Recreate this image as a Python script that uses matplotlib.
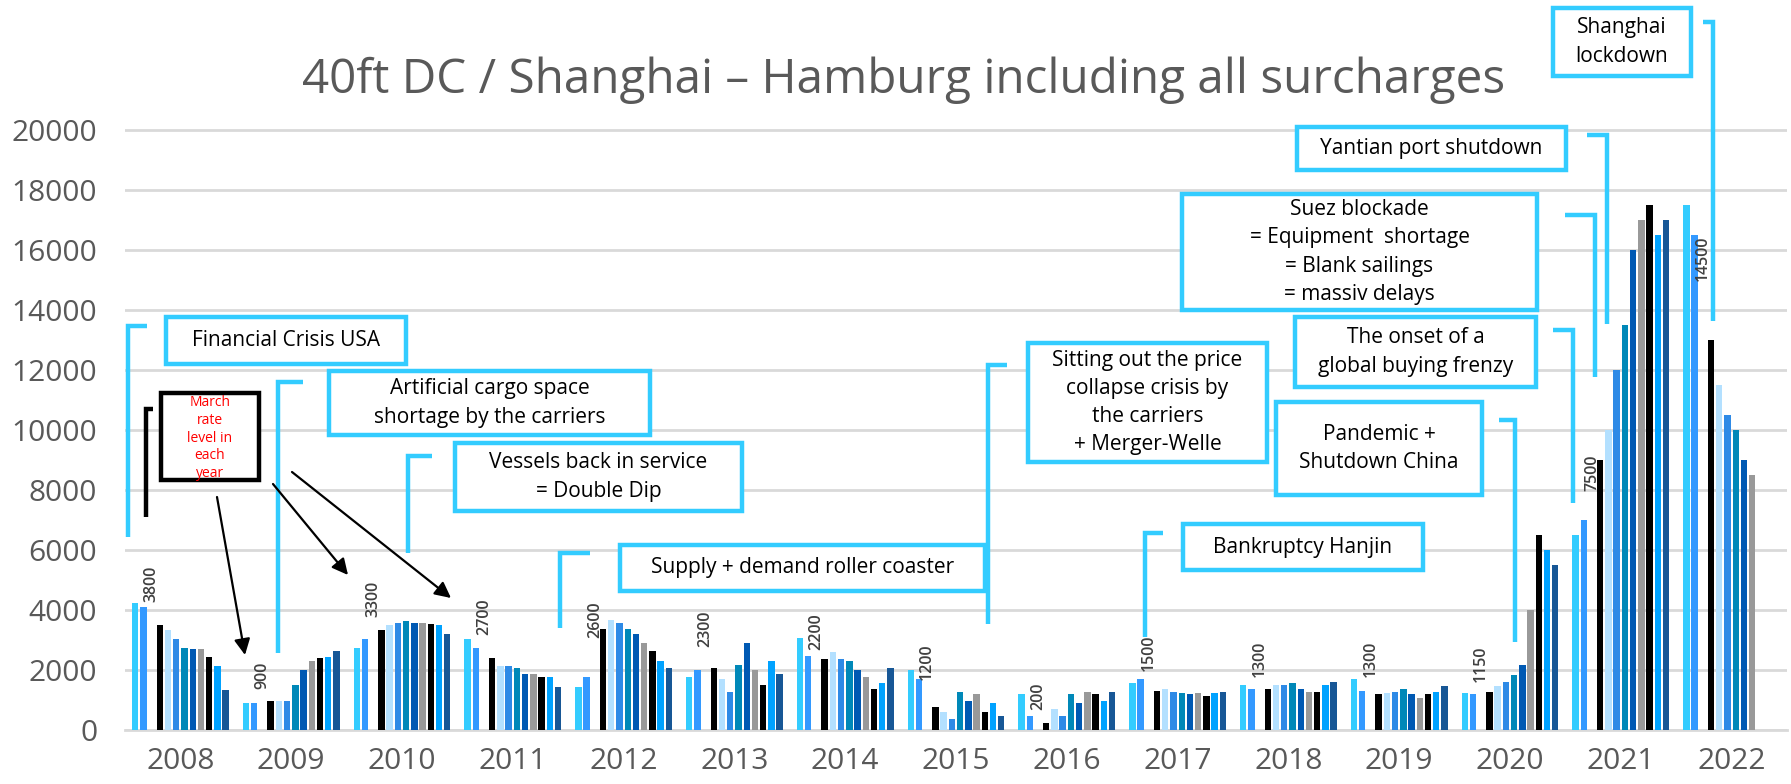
import matplotlib
matplotlib.use("Agg")
import matplotlib.pyplot as plt
from matplotlib.patches import Rectangle, FancyArrowPatch
from matplotlib.lines import Line2D

plt.rcParams['font.family'] = ['Open Sans', 'DejaVu Sans']

years = [2008, 2009, 2010, 2011, 2012, 2013, 2014, 2015, 2016, 2017, 2018, 2019, 2020, 2021, 2022]

# March rate of each year, only shown as a label
march = [3800, 900, 3300, 2700, 2600, 2300, 2200, 1200, 200, 1500, 1300, 1300, 1150, 7500, 14500]

# Jan, Feb, Apr, May, Jun, Jul, Aug, Sep, Oct, Nov, Dec  (March is left out)
r2008 = [4250, 4100, 3500, 3350, 3050, 2750, 2700, 2700, 2450, 2150, 1350]
r2009 = [900, 900, 980, 970, 970, 1500, 2000, 2300, 2400, 2450, 2650]
r2010 = [2750, 3050, 3350, 3500, 3580, 3620, 3580, 3580, 3550, 3500, 3200]
r2011 = [3050, 2750, 2400, 2150, 2150, 2080, 1870, 1870, 1780, 1780, 1450]
r2012 = [1450, 1780, 3370, 3670, 3580, 3370, 3190, 2890, 2630, 2290, 2080]
r2013 = [1780, 2000, 2080, 1700, 1280, 2170, 2890, 2000, 1490, 2290, 1870]
r2014 = [3070, 2470, 2380, 2590, 2380, 2290, 2000, 1780, 1360, 1570, 2080]
r2015 = [2000, 1700, 760, 590, 380, 1270, 970, 1190, 590, 890, 460]
r2016 = [1190, 460, 240, 710, 460, 1190, 890, 1270, 1190, 970, 1270]
r2017 = [1570, 1700, 1310, 1360, 1270, 1230, 1190, 1230, 1140, 1230, 1270]
r2018 = [1490, 1360, 1360, 1490, 1490, 1570, 1360, 1270, 1270, 1490, 1610]
r2019 = [1700, 1310, 1190, 1220, 1270, 1360, 1190, 1060, 1190, 1270, 1480]
r2020 = [1220, 1190, 1270, 1480, 1610, 1820, 2170, 4000, 6500, 6000, 5500]
r2021 = [6500, 7000, 9000, 10000, 12000, 13500, 16000, 17000, 17500, 16500, 17000]
r2022 = [17500, 16500, 13000, 11500, 10500, 10000, 9000, 8500, None, None, None]

rates = [r2008, r2009, r2010, r2011, r2012, r2013, r2014, r2015,
         r2016, r2017, r2018, r2019, r2020, r2021, r2022]

month_slots = [0, 1, 3, 4, 5, 6, 7, 8, 9, 10, 11]
month_colors = ['#33CCFF', '#3399FF', '#000000', '#B3E0FF', '#2E8AE6', '#0088B8',
                '#0059B3', '#999999', '#000000', '#00A2FF', '#175796']

W, H = 1791, 784
cyan = '#33CCFF'
step = 13.5

fig = plt.figure(figsize=(W / 100, H / 100), dpi=100)
ax = fig.add_axes([125 / W, 54 / H, 1662 / W, 720 / H])

for k, slot in enumerate(month_slots):
    xs, hs = [], []
    for i, vals in enumerate(rates):
        if vals[k] is not None:
            xs.append(i * step + slot)
            hs.append(vals[k])
    ax.bar(xs, hs, width=0.78, color=month_colors[k], zorder=2)

for i, v in enumerate(march):
    ax.annotate(str(v), (i * step + 2, v), xytext=(0, 10), textcoords='offset points',
                rotation=90, ha='center', va='bottom', fontsize=11.5, color='#404040',
                fontweight='semibold')

ax.set_xlim(-1.25, 201.25)
ax.set_ylim(0, 24000)
ax.set_yticks(range(0, 20001, 2000))
ax.set_xticks([i * step + 5.5 for i in range(len(years))])
ax.set_xticklabels([str(y) for y in years])
ax.grid(axis='y', color='#D9D9D9', lw=2, zorder=0)
ax.axhline(0, color='#D9D9D9', lw=2, clip_on=False, zorder=1)
for s in ax.spines.values():
    s.set_visible(False)
ax.tick_params(axis='both', length=0, labelsize=21.5, labelcolor='#595959')
ax.tick_params(axis='y', pad=20)
ax.tick_params(axis='x', pad=12)

fig.text(904 / W, 1 - 93 / H, "40ft DC / Shanghai \u2013 Hamburg including all surcharges",
         ha='center', va='baseline', fontsize=34.3, color='#595959')


def f(x, y):
    return (x / W, 1 - y / H)


def box(x0, y0, x1, y1, text, ec=cyan):
    fig.add_artist(Rectangle(f(x0, y1), (x1 - x0) / W, (y1 - y0) / H, transform=fig.transFigure,
                             fc='white', ec=ec, lw=3.2, zorder=5))
    if text:
        fig.text((x0 + x1) / 2 / W, 1 - (y0 + y1) / 2 / H, text, ha='center', va='center',
                 ma='center', fontsize=15, color='black', zorder=6, linespacing=1.45)


def bracket(x, top, bottom, stub, color=cyan):
    fig.add_artist(Line2D([stub / W, x / W, x / W], [1 - top / H, 1 - top / H, 1 - bottom / H],
                          transform=fig.transFigure, color=color, lw=3.2,
                          solid_joinstyle='miter', solid_capstyle='butt', zorder=4))


def arrow(x0, y0, x1, y1):
    fig.add_artist(FancyArrowPatch(f(x0, y0), f(x1, y1), transform=fig.transFigure,
                                   arrowstyle='-|>', mutation_scale=24, color='black',
                                   lw=1.6, shrinkA=0, shrinkB=0, zorder=6))


box(166, 317, 406, 364, "Financial Crisis USA")
bracket(128, 326, 537, 147)

box(161, 393, 259, 480, "", ec='black')
fig.text(210 / W, 1 - 395 / H, "March\nrate\nlevel in\neach\nyear", ha='center', va='top',
         color='red', fontsize=10, linespacing=1.25, zorder=6)
bracket(146, 409, 517, 153, color='black')
arrow(217, 497, 245, 655)
arrow(273, 484, 348, 575)
arrow(292, 472, 451, 598)

box(329, 371, 650, 435, "Artificial cargo space\nshortage by the carriers")
bracket(278, 382, 653, 303)

box(455, 443, 742, 511, "Vessels back in service\n= Double Dip")
bracket(408, 456, 553, 432)

box(620, 545, 985, 591, "Supply + demand roller coaster")
bracket(560, 553, 628, 590)

box(1028, 343, 1267, 462, "Sitting out the price\ncollapse crisis by\nthe carriers\n+ Merger-Welle")
bracket(988, 365, 624, 1007)

box(1183, 524, 1423, 570, "Bankruptcy Hanjin")
bracket(1145, 533, 637, 1163)

box(1276, 402, 1482, 495, "Pandemic +\nShutdown China")
bracket(1515, 420, 642, 1499)

box(1295, 317, 1536, 387, "The onset of a\nglobal buying frenzy")
bracket(1573, 330, 503, 1553)

box(1182, 194, 1537, 310, "Suez blockade\n= Equipment  shortage\n= Blank sailings\n= massiv delays")
bracket(1595, 215, 377, 1565)

box(1297, 127, 1566, 170, "Yantian port shutdown")
bracket(1607, 135, 324, 1587)

box(1553, 8, 1691, 76, "Shanghai\nlockdown")
bracket(1713, 22, 321, 1703)

fig.savefig("out.png", dpi=100)
